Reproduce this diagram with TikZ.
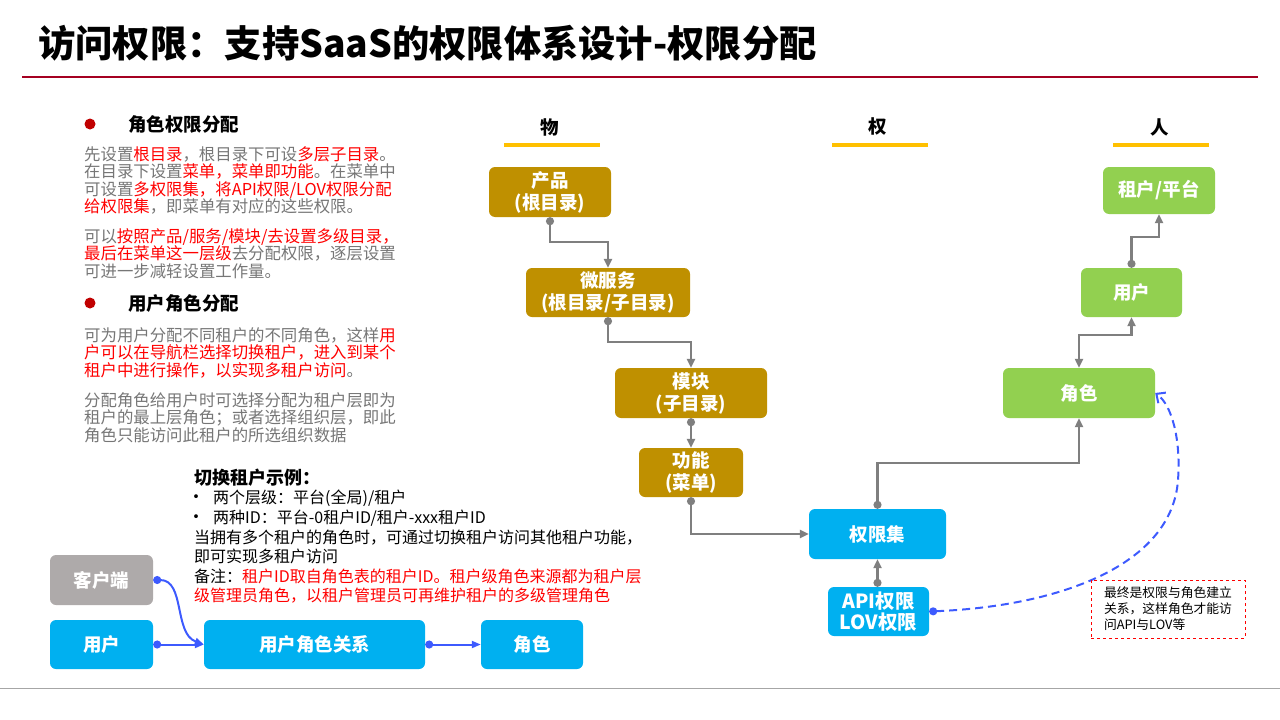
\documentclass[tikz,border=0pt]{standalone}
\usepackage{fontspec}
\setmainfont{Noto Sans CJK SC}
\usepackage{xcolor}
\usepackage{tikz}
\usetikzlibrary{arrows.meta, positioning}
\definecolor{gold}{RGB}{191,144,0}
\definecolor{skyblue}{RGB}{0,176,240}
\definecolor{leaf}{RGB}{146,208,80}
\definecolor{stone}{RGB}{174,170,170}
\definecolor{wire}{RGB}{127,127,127}
\definecolor{royal}{RGB}{61,90,254}
\definecolor{sun}{RGB}{255,192,0}
\definecolor{crimson}{RGB}{165,0,33}
\definecolor{txtgray}{RGB}{118,118,118}
\definecolor{hot}{RGB}{255,0,0}
\definecolor{bulletred}{RGB}{192,0,0}
\newcommand{\redtxt}[1]{\textcolor{hot}{#1}}
\newcommand{\exbullet}{\makebox[19pt][l]{\hspace{-6.5pt}\fontsize{18}{18}\selectfont •}}
\tikzset{
  box/.style={rounded corners=6pt, text=white, align=center, inner sep=0pt,
    font=\fontsize{18.5}{22}\selectfont\bfseries},
  para/.style={font=\fontsize{16.4}{17.3}\selectfont, text=txtgray, align=left, inner sep=0pt},
  head/.style={font=\fontsize{18.5}{20}\selectfont\bfseries, inner sep=0pt},
  conn/.style={draw=wire, line width=2.2pt, {Circle[length=8pt]}-{Triangle[length=9pt,width=8pt]}},
  bconn/.style={draw=royal, line width=2pt, {Circle[length=8pt]}-{Triangle[length=9pt,width=7pt]}},
}

\begin{document}
\begin{tikzpicture}[x=1pt, y=-1pt]
    \useasboundingbox (0,0) rectangle (1280,720);
    % title
    \node[anchor=west, inner sep=0pt, font=\fontsize{37.3}{40}\selectfont\bfseries] (title) at (38,43)
      {访问权限：支持SaaS的权限体系设计-权限分配};
    \draw[crimson, line width=2.5pt] (22,77) -- (1258,77);
    \draw[black!35, line width=1pt] (0,688) -- (1280,688);

    % left text: role permission
    \fill[bulletred] (90,124) circle (5.5pt);
    \node[head, anchor=west] (h1) at (128,124) {角色权限分配};
    \node[para, anchor=north west] (p1) at (84,146.5)
      {先设置\redtxt{根目录}，根目录下可设\redtxt{多层子目录}。\\
       在目录下设置\redtxt{菜单，菜单即功能}。在菜单中\\
       可设置\redtxt{多权限集，将API权限/LOV权限分配}\\
       \redtxt{给权限集}，即菜单有对应的这些权限。};
    \node[para, anchor=north west] (p2) at (84,228.5)
      {可以\redtxt{按照产品/服务/模块/去设置多级目录，}\\
       \redtxt{最后在菜单这一层级}去分配权限，逐层设置\\
       可进一步减轻设置工作量。};
    % left text: user role
    \fill[bulletred] (90,303) circle (5.5pt);
    \node[head, anchor=west] (h2) at (128,303) {用户角色分配};
    \node[para, anchor=north west] (p3) at (84,327.5)
      {可为用户分配不同租户的不同角色，这样\redtxt{用}\\
       \redtxt{户可以在导航栏选择切换租户，进入到某个}\\
       \redtxt{租户中进行操作，以实现多租户访问}。};
    \node[para, anchor=north west] (p4) at (84,392.5)
      {分配角色给用户时可选择分配为租户层即为\\
       租户的最上层角色；或者选择组织层，即此\\
       角色只能访问此租户的所选组织数据};

    % switch tenant example
    \node[head, anchor=west, font=\fontsize{18}{20}\selectfont\bfseries] (exhead) at (194,478) {切换租户示例：};
    \node[anchor=north west, inner sep=0pt, align=left,
          font=\fontsize{16}{19.6}\selectfont] (exbody) at (194,490)
      {\exbullet 两个层级：平台(全局)/租户\\
       \exbullet 两种ID：平台-0租户ID/租户-xxx租户ID\\
       当拥有多个租户的角色时，可通过切换租户访问其他租户功能，\\
       即可实现多租户访问\\
       备注：\redtxt{租户ID取自角色表的租户ID。租户级角色来源都为租户层}\\
       \redtxt{级管理员角色，以租户管理员可再维护租户的多级管理角色}};

    % user role relation
    \node[box, fill=stone, minimum width=103, minimum height=50] (client) at (101.5,580) {客户端};
    \node[box, fill=skyblue, minimum width=103, minimum height=49] (uleft) at (101.5,644.5) {用户};
    \node[box, fill=skyblue, minimum width=221, minimum height=49] (urel) at (314.5,644.5) {用户角色关系};
    \node[box, fill=skyblue, minimum width=102, minimum height=49] (rleft) at (532,644.5) {角色};
    \draw[bconn] (client.east) to[out=0, in=160] (urel.west);
    \draw[bconn] (uleft.east) -- (urel.west);
    \draw[bconn] (urel.east) -- (rleft.west);

    % column heads
    \node[head] (hwu) at (550,127) {物};
    \node[head] (hquan) at (878,127) {权};
    \node[head] (hren) at (1160,127) {人};
    \draw[sun, line width=4pt] (504,145) -- (600,145);
    \draw[sun, line width=4pt] (832,145) -- (928,145);
    \draw[sun, line width=4pt] (1113,145) -- (1209,145);

    % things
    \node[box, fill=gold, minimum width=122, minimum height=50] (prod) at (550,192) {产品\\(根目录)};
    \node[box, fill=gold, minimum width=164, minimum height=49] (micro) at (608,292.5) {微服务\\(根目录/子目录)};
    \node[box, fill=gold, minimum width=152, minimum height=50] (module) at (691,393) {模块\\(子目录)};
    \node[box, fill=gold, minimum width=104, minimum height=49] (func) at (691,472.5) {功能\\(菜单)};
    % permissions
    \node[box, fill=skyblue, minimum width=137, minimum height=50] (pset) at (877.5,534) {权限集};
    \node[box, fill=skyblue, minimum width=101, minimum height=49,
          font=\fontsize{19.5}{21}\selectfont\bfseries] (api) at (878.5,611.5) {API权限\\LOV权限};
    % people
    \node[box, fill=leaf, minimum width=152, minimum height=50] (role) at (1079,393) {角色};
    \node[box, fill=leaf, minimum width=101, minimum height=49] (user) at (1131.5,292.5) {用户};
    \node[box, fill=leaf, minimum width=112, minimum height=47] (tenant) at (1159,190.5) {租户/平台};

    % connectors
    \draw[conn] (prod.south) -- ++(0,25) -| (micro.north);
    \draw[conn] (micro.south) -- ++(0,25) -| (module.north);
    \draw[conn] (module.south) -- (func.north);
    \draw[conn] (func.south) |- (pset.west);
    \draw[conn] (api.north -| pset.south) -- (pset.south);
    \draw[conn] (pset.north) -- ++(0,-46) -| (role.south);
    \draw[conn, {Triangle[length=9pt,width=8pt]}-{Triangle[length=9pt,width=8pt]}]
      (role.north) -- ++(0,-33) -| (user.south);
    \draw[conn] (user.north) -- ++(0,-31) -| (tenant.south);
    \draw[royal, line width=2pt, dash pattern=on 8pt off 5pt,
          {Circle[length=8pt]}-{Straight Barb[length=7pt,width=13pt]}]
      (api.east) .. controls (1060,606) and (1172,565) .. (1178,480)
      .. controls (1181,440) and (1172,405) .. (role.east);

    % note
    \node[draw=hot, dashed, line width=1pt, minimum width=154, minimum height=58,
          inner sep=0pt, align=left, font=\fontsize{12.8}{16}\selectfont] (note) at (1168,609)
      {最终是权限与角色建立\\关系，这样角色才能访\\问API与LOV等};
\end{tikzpicture}
\end{document}
